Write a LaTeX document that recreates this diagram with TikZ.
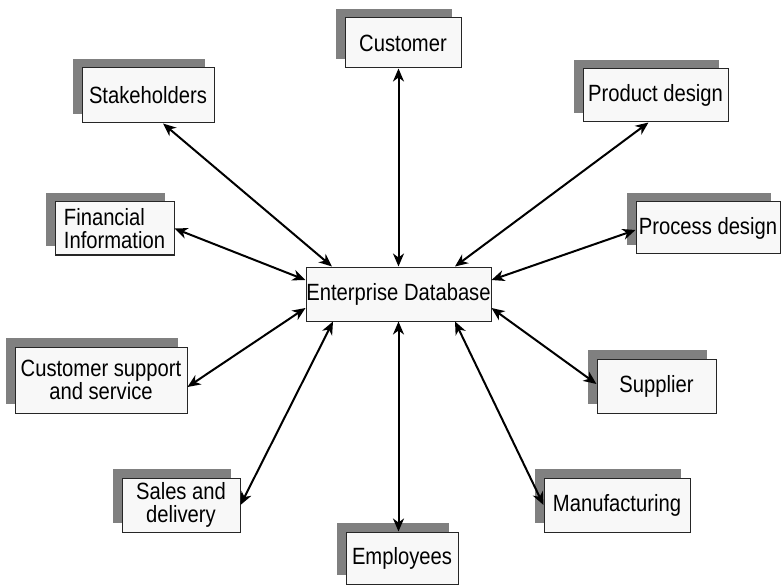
\documentclass[tikz,border=0pt]{standalone}
\usepackage{fontspec}
\newfontfamily\labfont[FakeStretch=0.86]{Liberation Sans}
\usetikzlibrary{arrows.meta,shadows}
\definecolor{shadowgray}{HTML}{808080}
\definecolor{boxfill}{HTML}{F8F8F8}
\begin{document}
\begin{tikzpicture}[x=1pt,y=-1pt,
  lab/.style={font=\labfont\fontsize{23.5}{23}\selectfont},
  boxnode/.style={lab,draw=black!85,line width=1pt,fill=boxfill,inner sep=0pt,align=center},
  shadowed/.style={boxnode,general shadow={fill=shadowgray,shadow xshift=-9pt,shadow yshift=9pt}},
  link/.style={line width=2pt,{Stealth[length=13pt,width=11pt,inset=4pt]}-{Stealth[length=13pt,width=11pt,inset=4pt]}}
]
\useasboundingbox[fill=white] (0,0) rectangle (781,585);
\node[boxnode,minimum width=185pt,minimum height=54pt] (ent) at (398.5,294) {Enterprise Database};
\node[shadowed,minimum width=116pt,minimum height=50pt] (cust) at (403,43) {Customer};
\node[shadowed,minimum width=132pt,minimum height=55pt] (stake) at (148,95.5) {Stakeholders};
\node[shadowed,minimum width=145pt,minimum height=53pt] (prod) at (655.5,95.5) {Product design};
\node[shadowed,minimum width=119pt,minimum height=53pt,align=left] (fin) at (114.5,228.5) {Financial\\Information};
\node[shadowed,minimum width=144pt,minimum height=52pt] (proc) at (708,228) {Process design};
\node[shadowed,minimum width=172pt,minimum height=66pt] (csup) at (101,380) {Customer support\\and service};
\node[shadowed,minimum width=119pt,minimum height=54pt] (supp) at (656.5,386) {Supplier};
\node[shadowed,minimum width=118pt,minimum height=54pt] (sales) at (181,505) {Sales and\\delivery};
\node[shadowed,minimum width=146pt,minimum height=54pt] (manu) at (617,505) {Manufacturing};
\node[shadowed,minimum width=112pt,minimum height=52pt] (emp) at (402,558) {Employees};

\draw[link] (ent.north) -- (ent.north |- cust.south);
\draw[link] ([xshift=-66.5pt]ent.north) -- ([xshift=15pt]stake.south);
\draw[link] ([xshift=56.5pt]ent.north) -- ([xshift=-7pt]prod.south);
\draw[link] ([yshift=14pt]ent.west) -- (fin.east);
\draw[link] ([yshift=14pt]ent.east) -- ([yshift=-2pt]proc.west);
\draw[link] ([yshift=-14pt]ent.west) -- ([yshift=-7pt]csup.east);
\draw[link] ([yshift=-14pt]ent.east) -- ([yshift=2pt]supp.west);
\draw[link] ([xshift=-65.5pt]ent.south) -- (sales.east);
\draw[link] (ent.south) -- (ent.south |- emp.north);
\draw[link] ([xshift=56.5pt]ent.south) -- (manu.west);
\end{tikzpicture}
\end{document}
